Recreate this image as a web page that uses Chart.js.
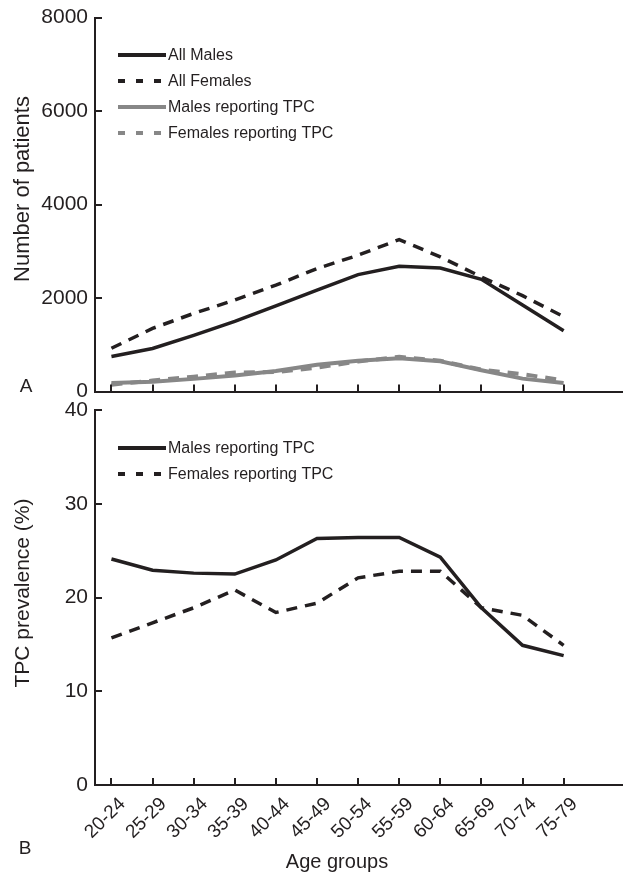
<!DOCTYPE html>
<html>
<head>
<meta charset="utf-8">
<script src="https://cdn.jsdelivr.net/npm/chart.js@4.4.1/dist/chart.umd.min.js"></script>
<style>
  html, body { margin: 0; padding: 0; background: #fff; }
  #wrap { position: relative; width: 632px; height: 874px; }
  canvas { position: absolute; left: 0; }
  #chartA { top: 0; }
  #chartB { top: 400px; }
</style>
</head>
<body>
<div id="wrap">
  <canvas id="chartA" width="632" height="400"></canvas>
  <canvas id="chartB" width="632" height="474"></canvas>
</div>
<script>
// age bands on the x axis
const ageGroups = ['20-24', '25-29', '30-34', '35-39', '40-44', '45-49',
                   '50-54', '55-59', '60-64', '65-69', '70-74', '75-79'];

// panel A - number of patients
const allMales    = [750, 920, 1200, 1500, 1830, 2170, 2500, 2680, 2640, 2400, 1850, 1300];
const allFemales  = [925, 1350, 1670, 1955, 2275, 2630, 2915, 3250, 2880, 2450, 2050, 1600];
const malesTPC    = [180, 210, 270, 340, 440, 570, 660, 710, 645, 455, 275, 180];
const femalesTPC  = [145, 234, 316, 407, 416, 510, 644, 741, 657, 466, 370, 240];
const countTicks  = [0, 2000, 4000, 6000, 8000];

// panel B - TPC prevalence (%)
const malesPrev   = [24.1, 22.9, 22.6, 22.5, 24.0, 26.3, 26.4, 26.4, 24.3, 18.9, 14.9, 13.8];
const femalesPrev = [15.7, 17.3, 18.9, 20.8, 18.4, 19.4, 22.1, 22.8, 22.8, 18.9, 18.1, 14.9];
const prevTicks   = [0, 10, 20, 30, 40];

const ink = '#231f20';
const grey = '#878787';
const family = "'Liberation Sans', Arial, Helvetica, sans-serif";

Chart.defaults.animation = false;
Chart.defaults.font.family = family;
Chart.defaults.color = ink;

function pts(values) {
  return values.map((v, i) => ({ x: i, y: v }));
}

function series(label, values, color, width, dash, legendDash) {
  return {
    label,
    data: pts(values),
    borderColor: color,
    backgroundColor: color,
    borderWidth: width,
    borderDash: dash,
    legendDash: legendDash,
    pointRadius: 0,
    pointHoverRadius: 0,
    tension: 0,
    fill: false,
    borderCapStyle: 'butt'
  };
}

// x axis shared by both panels
function ageScale(showLabels, height) {
  return {
    type: 'linear',
    min: -0.4,
    max: 12.42,
    afterBuildTicks: s => { s.ticks = ageGroups.map((g, i) => ({ value: i })); },
    grid: { display: false, drawTicks: false },
    border: { display: true, color: ink, width: 2 },
    ticks: {
      display: showLabels,
      autoSkip: false,
      minRotation: 45,
      maxRotation: 45,
      padding: 8,
      labelOffset: 11,
      color: ink,
      font: { size: 19 },
      callback: v => ageGroups[v]
    },
    afterFit: s => { s.height = height; s.paddingLeft = 0; s.paddingRight = 0; }
  };
}

function valueScale(max, tickList) {
  return {
    min: 0,
    max: max,
    afterBuildTicks: s => { s.ticks = tickList.map(v => ({ value: v })); },
    grid: { display: false, drawTicks: false },
    border: { display: true, color: ink, width: 2 },
    ticks: { padding: 7, color: ink, font: { size: 21 }, callback: v => String(v) },
    afterFit: s => { s.width = 95; s.paddingTop = 0; s.paddingBottom = 0; }
  };
}

// tick marks point into the plot
const innerTicks = {
  id: 'innerTicks',
  afterDatasetsDraw(chart) {
    const { ctx, chartArea: { left, bottom } } = chart;
    const xs = chart.scales.x, ys = chart.scales.y;
    ctx.save();
    ctx.strokeStyle = ink;
    ctx.lineWidth = 2;
    ctx.beginPath();
    xs.ticks.forEach(t => {
      const px = Math.round(xs.getPixelForValue(t.value));
      ctx.moveTo(px, bottom);
      ctx.lineTo(px, bottom - 7);
    });
    ys.ticks.forEach(t => {
      const py = Math.round(ys.getPixelForValue(t.value));
      ctx.moveTo(left, py);
      ctx.lineTo(left + 7, py);
    });
    ctx.stroke();
    ctx.restore();
  }
};

// legend drawn inside the plot, top left
const insideLegend = {
  id: 'insideLegend',
  afterDraw(chart, args, opts) {
    const { ctx } = chart;
    ctx.save();
    ctx.font = '16px ' + family;
    ctx.textBaseline = 'middle';
    ctx.fillStyle = ink;
    chart.data.datasets.forEach((ds, i) => {
      const y = opts.y0 + i * opts.step;
      ctx.beginPath();
      ctx.strokeStyle = ds.borderColor;
      ctx.lineWidth = 4;
      ctx.setLineDash(ds.legendDash || []);
      ctx.moveTo(opts.x0, y);
      ctx.lineTo(opts.x1, y);
      ctx.stroke();
      ctx.setLineDash([]);
      ctx.fillText(ds.label, opts.x1 + 2, y + 1);
    });
    ctx.restore();
  }
};

// axis titles and panel letters
const figureText = {
  id: 'figureText',
  afterDraw(chart, args, opts) {
    const { ctx } = chart;
    ctx.save();
    ctx.fillStyle = ink;
    ctx.textAlign = 'center';
    ctx.textBaseline = 'middle';
    (opts.items || []).forEach(it => {
      ctx.save();
      ctx.font = it.size + 'px ' + family;
      ctx.translate(it.x, it.y);
      if (it.rot) ctx.rotate(it.rot);
      ctx.fillText(it.text, 0, 0);
      ctx.restore();
    });
    ctx.restore();
  }
};

const chartA = new Chart(document.getElementById('chartA'), {
  type: 'line',
  data: {
    datasets: [
      series('All Males', allMales, ink, 3.5, [], []),
      series('All Females', allFemales, ink, 3.5, [11, 8], [7, 11]),
      series('Males reporting TPC', malesTPC, grey, 4, [], []),
      series('Females reporting TPC', femalesTPC, grey, 4, [11, 8], [7, 11])
    ]
  },
  options: {
    responsive: false,
    layout: { padding: { top: 17.5, right: 10, bottom: 0, left: 0 } },
    scales: {
      x: ageScale(false, 8.5),
      y: valueScale(8000, countTicks)
    },
    plugins: {
      legend: { display: false },
      tooltip: { enabled: false },
      insideLegend: { x0: 118, x1: 166, y0: 55, step: 26 },
      figureText: {
        items: [
          { text: 'Number of patients', x: 23, y: 189, size: 22, rot: -Math.PI / 2 },
          { text: 'A', x: 26, y: 387, size: 19 }
        ]
      }
    }
  },
  plugins: [innerTicks, insideLegend, figureText]
});

const chartB = new Chart(document.getElementById('chartB'), {
  type: 'line',
  data: {
    datasets: [
      series('Males reporting TPC', malesPrev, ink, 3.5, [], []),
      series('Females reporting TPC', femalesPrev, ink, 3.5, [11, 8], [7, 11])
    ]
  },
  options: {
    responsive: false,
    layout: { padding: { top: 10, right: 10, bottom: 0, left: 0 } },
    scales: {
      x: ageScale(true, 89),
      y: valueScale(40, prevTicks)
    },
    plugins: {
      legend: { display: false },
      tooltip: { enabled: false },
      insideLegend: { x0: 118, x1: 166, y0: 48, step: 26 },
      figureText: {
        items: [
          { text: 'TPC prevalence (%)', x: 23, y: 193, size: 21, rot: -Math.PI / 2 },
          { text: 'B', x: 25, y: 449, size: 19 },
          { text: 'Age groups', x: 337, y: 462, size: 20 }
        ]
      }
    }
  },
  plugins: [innerTicks, insideLegend, figureText]
});
</script>
</body>
</html>
